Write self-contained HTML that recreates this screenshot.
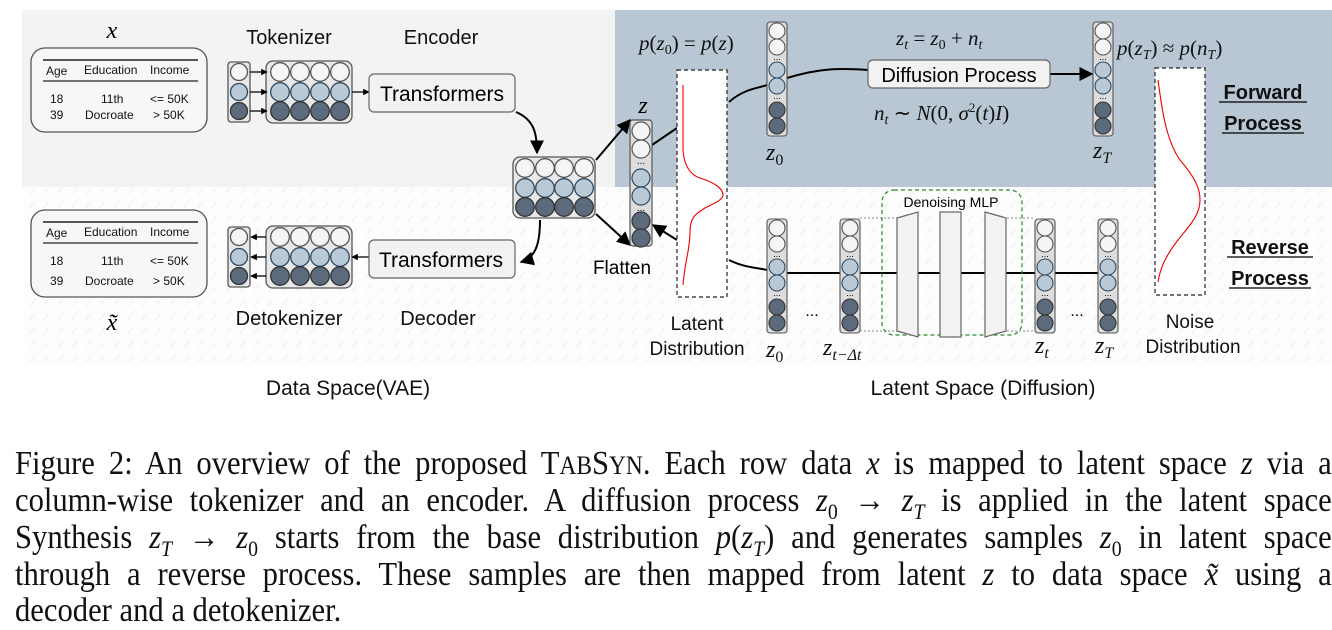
<!DOCTYPE html>
<html><head><meta charset="utf-8"><style>
html,body{margin:0;padding:0;background:#fff;}
body{width:1332px;height:630px;position:relative;overflow:hidden;}
svg{position:absolute;left:0;top:0;}
.cap{position:absolute;left:15px;width:1463px;transform:scaleX(0.9);transform-origin:0 0;font-family:"Liberation Serif",serif;font-size:34px;line-height:37px;color:#111;text-align:justify;text-align-last:justify;white-space:nowrap;}
.cap i{font-style:italic;}
.sc{font-size:26px;}
.cap sub{font-size:22px;line-height:0;}
</style></head><body>
<svg width="1332" height="630" viewBox="0 0 1332 630" font-family="'Liberation Sans','DejaVu Sans',sans-serif">
<defs>
<pattern id="h" width="14" height="14" patternUnits="userSpaceOnUse"><rect width="14" height="14" fill="#fdfdfd"/><path d="M2 12 L7 5" stroke="#eceef2" stroke-width="1"/></pattern>
<marker id="a" viewBox="0 0 10 10" refX="9" refY="5" markerWidth="7" markerHeight="7" orient="auto"><path d="M0 0 L10 5 L0 10 z" fill="#000"/></marker>
<marker id="as" viewBox="0 0 10 10" refX="9" refY="5" markerWidth="5" markerHeight="5" orient="auto"><path d="M0 0 L10 5 L0 10 z" fill="#000"/></marker>
</defs>
<rect x="22" y="10" width="593" height="177" fill="#f3f3f3"/>
<rect x="615" y="10" width="717" height="177" fill="#b8c7d3"/>
<rect x="22" y="187" width="1310" height="178" fill="url(#h)"/>

<g font-size="12" fill="#111">
<rect x="31" y="48" width="176" height="84" rx="14" fill="#f7f7f7" stroke="#555" stroke-width="1.3"/>
<line x1="43" y1="60" x2="198" y2="60" stroke="#222" stroke-width="1.5"/>
<line x1="43" y1="81" x2="198" y2="81" stroke="#222" stroke-width="1.2"/>
<text x="46" y="75">Age</text><text x="84" y="74">Education</text><text x="150" y="74">Income</text>
<text x="50" y="103">18</text><text x="101" y="103">11th</text><text x="150" y="103">&lt;= 50K</text>
<text x="50" y="119">39</text><text x="85" y="119">Docroate</text><text x="153" y="119">&gt; 50K</text>
<rect x="31" y="210" width="176" height="87" rx="14" fill="#f7f7f7" stroke="#555" stroke-width="1.3"/>
<line x1="43" y1="222" x2="198" y2="222" stroke="#222" stroke-width="1.5"/>
<line x1="43" y1="243" x2="198" y2="243" stroke="#222" stroke-width="1.2"/>
<text x="46" y="237">Age</text><text x="84" y="236">Education</text><text x="150" y="236">Income</text>
<text x="50" y="265">18</text><text x="101" y="265">11th</text><text x="150" y="265">&lt;= 50K</text>
<text x="50" y="285">39</text><text x="85" y="285">Docroate</text><text x="153" y="285">&gt; 50K</text>
</g>
<text x="112" y="38" font-family="'Liberation Serif',serif" font-style="italic" font-size="24" text-anchor="middle">x</text>
<text x="112" y="330" font-family="'Liberation Serif',serif" font-style="italic" font-size="24" text-anchor="middle">x̃</text>

<g stroke-width="1.3">
<rect x="228" y="62" width="22" height="60" rx="3" fill="#e8e8e8" stroke="#555"/>
<circle cx="239" cy="72" r="8.5" fill="#f5f5f5" stroke="#555"/>
<circle cx="239" cy="92" r="8.5" fill="#b9cad6" stroke="#2e4a62"/>
<circle cx="239" cy="111" r="8.5" fill="#5b6b7c" stroke="#333"/>
<rect x="266" y="61" width="86" height="62" rx="7" fill="#e8e8e8" stroke="#555"/>
<g fill="#f5f5f5" stroke="#555"><circle cx="280" cy="72" r="9.3"/><circle cx="300" cy="72" r="9.3"/><circle cx="320" cy="72" r="9.3"/><circle cx="340" cy="72" r="9.3"/></g>
<g fill="#b9cad6" stroke="#2e4a62"><circle cx="280" cy="92" r="9.3"/><circle cx="300" cy="92" r="9.3"/><circle cx="320" cy="92" r="9.3"/><circle cx="340" cy="92" r="9.3"/></g>
<g fill="#5b6b7c" stroke="#333"><circle cx="280" cy="111" r="9.3"/><circle cx="300" cy="111" r="9.3"/><circle cx="320" cy="111" r="9.3"/><circle cx="340" cy="111" r="9.3"/></g>
<rect x="228" y="227" width="22" height="60" rx="3" fill="#e8e8e8" stroke="#555"/>
<circle cx="239" cy="237" r="8.5" fill="#f5f5f5" stroke="#555"/>
<circle cx="239" cy="257" r="8.5" fill="#b9cad6" stroke="#2e4a62"/>
<circle cx="239" cy="276" r="8.5" fill="#5b6b7c" stroke="#333"/>
<rect x="266" y="226" width="86" height="62" rx="7" fill="#e8e8e8" stroke="#555"/>
<g fill="#f5f5f5" stroke="#555"><circle cx="280" cy="237" r="9.3"/><circle cx="300" cy="237" r="9.3"/><circle cx="320" cy="237" r="9.3"/><circle cx="340" cy="237" r="9.3"/></g>
<g fill="#b9cad6" stroke="#2e4a62"><circle cx="280" cy="257" r="9.3"/><circle cx="300" cy="257" r="9.3"/><circle cx="320" cy="257" r="9.3"/><circle cx="340" cy="257" r="9.3"/></g>
<g fill="#5b6b7c" stroke="#333"><circle cx="280" cy="276" r="9.3"/><circle cx="300" cy="276" r="9.3"/><circle cx="320" cy="276" r="9.3"/><circle cx="340" cy="276" r="9.3"/></g>
<rect x="513" y="157" width="82" height="61" rx="7" fill="#e8e8e8" stroke="#555"/>
<g fill="#f5f5f5" stroke="#555"><circle cx="525" cy="168" r="9.3"/><circle cx="545" cy="168" r="9.3"/><circle cx="564" cy="168" r="9.3"/><circle cx="584" cy="168" r="9.3"/></g>
<g fill="#b9cad6" stroke="#2e4a62"><circle cx="525" cy="188" r="9.3"/><circle cx="545" cy="188" r="9.3"/><circle cx="564" cy="188" r="9.3"/><circle cx="584" cy="188" r="9.3"/></g>
<g fill="#5b6b7c" stroke="#333"><circle cx="525" cy="207" r="9.3"/><circle cx="545" cy="207" r="9.3"/><circle cx="564" cy="207" r="9.3"/><circle cx="584" cy="207" r="9.3"/></g>
</g>

<g stroke="#000" stroke-width="1.3">
<line x1="250" y1="72" x2="267" y2="72" marker-end="url(#as)"/>
<line x1="250" y1="92" x2="267" y2="92" marker-end="url(#as)"/>
<line x1="250" y1="111" x2="267" y2="111" marker-end="url(#as)"/>
<line x1="352" y1="92" x2="369" y2="92" marker-end="url(#as)"/>
<line x1="266" y1="237" x2="251" y2="237" marker-end="url(#as)"/>
<line x1="266" y1="257" x2="251" y2="257" marker-end="url(#as)"/>
<line x1="266" y1="276" x2="251" y2="276" marker-end="url(#as)"/>
<line x1="369" y1="257" x2="352" y2="257" marker-end="url(#as)"/>
</g>

<g font-size="20" fill="#111">
<text x="289" y="44" text-anchor="middle">Tokenizer</text>
<text x="441" y="44" text-anchor="middle">Encoder</text>
<text x="289" y="325" text-anchor="middle">Detokenizer</text>
<text x="438" y="325" text-anchor="middle">Decoder</text>
</g>
<rect x="369" y="74" width="146" height="38" rx="5" fill="#f2f2f2" stroke="#666" stroke-width="1.2"/>
<text x="442" y="101" font-size="21" text-anchor="middle">Transformers</text>
<rect x="369" y="240" width="146" height="38" rx="5" fill="#f2f2f2" stroke="#666" stroke-width="1.2"/>
<text x="441" y="267" font-size="21" text-anchor="middle">Transformers</text>

<g fill="none" stroke="#000" stroke-width="2">
<path d="M516 112 C535 120 537 135 537 153" marker-end="url(#a)"/>
<path d="M540 220 C540 245 535 258 521 262" marker-end="url(#a)"/>
<path d="M596 160 L630 120" marker-end="url(#a)"/>
<path d="M596 214 L630 245" marker-end="url(#a)"/>
<path d="M652 145 L677 128"/>
<path d="M677 240 L653 225" marker-end="url(#a)"/>
<path d="M729 102 C745 88 760 88 767 85"/>
<path d="M787 78 C820 68 840 68 868 70"/>
<path d="M1050 74 L1092 74" marker-end="url(#a)"/>
<path d="M729 260 C745 268 760 268 767 270"/>
<path d="M787 273 L840 273"/>
<path d="M860 273 L1035 273"/>
<path d="M1055 273 L1098 273"/>
</g>
<text x="643" y="113" font-family="'Liberation Serif',serif" font-style="italic" font-size="24" text-anchor="middle">z</text>
<text x="622" y="274" font-size="19" text-anchor="middle">Flatten</text>

<g stroke-width="1.2">
<rect x="630" y="120" width="22" height="126" rx="3" fill="#ddd" stroke="#555"/>
<circle cx="641" cy="131" r="9" fill="#f5f5f5" stroke="#555"/><circle cx="641" cy="149" r="9" fill="#f5f5f5" stroke="#555"/>
<text x="641" y="164" font-size="10" text-anchor="middle">...</text>
<circle cx="641" cy="178" r="9" fill="#b9cad6" stroke="#2e4a62"/><circle cx="641" cy="196" r="9" fill="#b9cad6" stroke="#2e4a62"/>
<text x="641" y="211" font-size="10" text-anchor="middle">...</text>
<circle cx="641" cy="221" r="9" fill="#5b6b7c" stroke="#333"/><circle cx="641" cy="238" r="9" fill="#5b6b7c" stroke="#333"/>
</g>
<g stroke-width="1.1">
<g id="c1" transform="translate(767,22)">
<rect x="0" y="0" width="20" height="114" rx="3" fill="#ddd" stroke="#555"/>
<circle cx="10" cy="9" r="8" fill="#f5f5f5" stroke="#555"/><circle cx="10" cy="25" r="8" fill="#f5f5f5" stroke="#555"/>
<text x="10" y="38" font-size="9" text-anchor="middle">...</text>
<circle cx="10" cy="48" r="8" fill="#b9cad6" stroke="#2e4a62"/><circle cx="10" cy="64" r="8" fill="#b9cad6" stroke="#2e4a62"/>
<text x="10" y="77" font-size="9" text-anchor="middle">...</text>
<circle cx="10" cy="88" r="8" fill="#5b6b7c" stroke="#333"/><circle cx="10" cy="104" r="8" fill="#5b6b7c" stroke="#333"/>
</g>
<use href="#c1" x="326" y="0"/>
<use href="#c1" x="0" y="197"/>
<use href="#c1" x="73" y="197"/>
<use href="#c1" x="268" y="197"/>
<use href="#c1" x="331" y="197"/>
</g>

<rect x="677" y="70" width="50" height="227" fill="#fff" stroke="#222" stroke-width="1.2" stroke-dasharray="4,3"/>
<path d="M683 85 L683 150 C684 165 690 175 700 178 C713 182 723 188 723 195 C723 200 713 204 705 208 C695 214 690 218 690 232 C690 250 685 260 683 285" fill="none" stroke="#e00" stroke-width="1.1"/>
<rect x="1155" y="68" width="50" height="227" fill="#fff" stroke="#222" stroke-width="1.2" stroke-dasharray="4,3"/>
<path d="M1158 80 C1162 110 1166 140 1180 160 C1197 180 1200 190 1200 200 C1200 215 1190 225 1178 240 C1164 258 1160 270 1158 282" fill="none" stroke="#e00" stroke-width="1.1"/>

<rect x="868" y="60" width="182" height="28" rx="5" fill="#f2f2f2" stroke="#666" stroke-width="1.2"/>
<text x="959" y="82" font-size="20" text-anchor="middle">Diffusion Process</text>

<g font-family="'Liberation Serif',serif" font-size="21" fill="#111">
<text x="639" y="50"><tspan font-style="italic">p</tspan>(<tspan font-style="italic">z</tspan><tspan font-size="14" dy="4">0</tspan><tspan dy="-4">) = </tspan><tspan font-style="italic">p</tspan>(<tspan font-style="italic">z</tspan>)</text>
<text x="896" y="45"><tspan font-style="italic">z</tspan><tspan font-size="14" font-style="italic" dy="4">t</tspan><tspan dy="-4"> = </tspan><tspan font-style="italic">z</tspan><tspan font-size="14" dy="4">0</tspan><tspan dy="-4"> + </tspan><tspan font-style="italic">n</tspan><tspan font-size="14" font-style="italic" dy="4">t</tspan></text>
<text x="874" y="120"><tspan font-style="italic">n</tspan><tspan font-size="14" font-style="italic" dy="4">t</tspan><tspan dy="-4"> ∼ </tspan><tspan font-style="italic">N</tspan>(0, <tspan font-style="italic">σ</tspan><tspan font-size="13" dy="-8">2</tspan><tspan dy="8">(</tspan><tspan font-style="italic">t</tspan>)<tspan font-style="italic">I</tspan>)</text>
<text x="1117" y="55"><tspan font-style="italic">p</tspan>(<tspan font-style="italic">z</tspan><tspan font-size="14" font-style="italic" dy="4">T</tspan><tspan dy="-4">) ≈ </tspan><tspan font-style="italic">p</tspan>(<tspan font-style="italic">n</tspan><tspan font-size="14" font-style="italic" dy="4">T</tspan><tspan dy="-4">)</tspan></text>
<g font-size="24">
<text x="766" y="160"><tspan font-style="italic">z</tspan><tspan font-size="16" dy="5">0</tspan></text>
<text x="1093" y="158"><tspan font-style="italic">z</tspan><tspan font-size="16" font-style="italic" dy="5">T</tspan></text>
<text x="766" y="357"><tspan font-style="italic">z</tspan><tspan font-size="16" dy="5">0</tspan></text>
<text x="823" y="355"><tspan font-style="italic">z</tspan><tspan font-size="16" font-style="italic" dy="5">t−Δt</tspan></text>
<text x="1035" y="353"><tspan font-style="italic">z</tspan><tspan font-size="16" font-style="italic" dy="5">t</tspan></text>
<text x="1095" y="353"><tspan font-style="italic">z</tspan><tspan font-size="16" font-style="italic" dy="5">T</tspan></text>
</g>
</g>
<text x="812" y="316" font-size="16" text-anchor="middle">...</text>
<text x="1077" y="316" font-size="16" text-anchor="middle">...</text>

<g stroke="#888" stroke-dasharray="2,2" stroke-width="1">
<line x1="860" y1="218" x2="897" y2="218"/><line x1="860" y1="331" x2="897" y2="331"/>
<line x1="1007" y1="218" x2="1035" y2="218"/><line x1="1007" y1="331" x2="1035" y2="331"/>
</g>
<rect x="882" y="190" width="140" height="145" rx="12" fill="none" stroke="#2a8a2a" stroke-width="1.2" stroke-dasharray="4,3"/>
<g fill="#f3f3f3" stroke="#666" stroke-width="1.2">
<path d="M897 218 L918 212 L918 337 L897 331 Z"/>
<rect x="940" y="212" width="21" height="125"/>
<path d="M985 212 L1006 218 L1006 331 L985 337 Z"/>
</g>
<text x="951" y="207" font-size="14" text-anchor="middle">Denoising MLP</text>

<g font-size="20" fill="#111" font-weight="bold">
<text x="1263" y="99" text-anchor="middle">Forward</text>
<text x="1263" y="130" text-anchor="middle">Process</text>
<text x="1270" y="254" text-anchor="middle">Reverse</text>
<text x="1270" y="285" text-anchor="middle">Process</text>
</g>
<line x1="1219" y1="102" x2="1307" y2="102" stroke="#000" stroke-width="1.3"/>
<line x1="1222" y1="133" x2="1304" y2="133" stroke="#000" stroke-width="1.3"/>
<line x1="1227" y1="257" x2="1313" y2="257" stroke="#000" stroke-width="1.3"/>
<line x1="1229" y1="288" x2="1311" y2="288" stroke="#000" stroke-width="1.3"/>

<g font-size="19" fill="#111" text-anchor="middle">
<text x="697" y="330">Latent</text>
<text x="697" y="355">Distribution</text>
<text x="1190" y="328">Noise</text>
<text x="1193" y="353">Distribution</text>
</g>
<g font-size="21" fill="#111" text-anchor="middle">
<text x="348" y="395">Data Space(VAE)</text>
<text x="983" y="395">Latent Space (Diffusion)</text>
</g>
</svg>

<div class="cap" style="top:445px">Figure 2: An overview of the proposed T<span class="sc">AB</span>S<span class="sc">YN</span>. Each row data <i>x</i> is mapped to latent space <i>z</i> via a</div>
<div class="cap" style="top:482px">column-wise tokenizer and an encoder. A diffusion process <i>z</i><sub>0</sub> → <i>z<sub>T</sub></i> is applied in the latent space</div>
<div class="cap" style="top:519px">Synthesis <i>z<sub>T</sub></i> → <i>z</i><sub>0</sub> starts from the base distribution <i>p</i>(<i>z<sub>T</sub></i>) and generates samples <i>z</i><sub>0</sub> in latent space</div>
<div class="cap" style="top:556px">through a reverse process. These samples are then mapped from latent <i>z</i> to data space <i>x̃</i> using a</div>
<div class="cap" style="top:592px;text-align-last:left;">decoder and a detokenizer.</div>
</body></html>
